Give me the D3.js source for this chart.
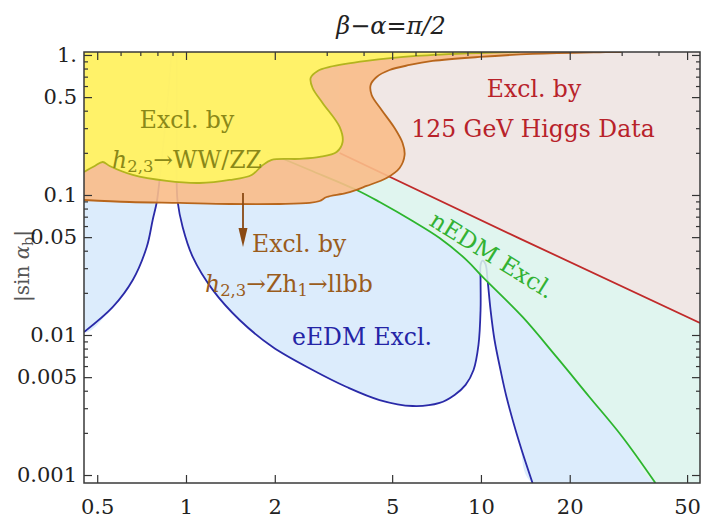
<!DOCTYPE html>
<html>
<head>
<meta charset="utf-8">
<script src="https://cdn.jsdelivr.net/npm/d3@7"></script>
<style>
  html, body { margin: 0; padding: 0; background: #fff; }
  svg { display: block; }
  .tick text { font-family: "DejaVu Serif", serif; font-size: 21px; fill: #222; }
</style>
</head>
<body>
<svg id="chart" width="702" height="519"></svg>
<script>
// ---- data: contours in (m_{h2,3} scale, |sin alpha_b|) ----
// eEDM exclusion boundary, left branch (bottom -> top)
const eedmLeft = [
  [0.451, 0.0105], [0.564, 0.0158], [0.66, 0.0247], [0.736, 0.0425], [0.771, 0.0663],
  [0.796, 0.0891], [0.81, 0.118], [0.834, 0.21], [0.867, 0.477], [0.894, 1.05]
];
// eEDM exclusion boundary, right branch (top -> bottom, through the narrow spike)
const eedmRight = [
  [0.93, 1.05], [0.93, 0.343], [0.93, 0.118], [0.937, 0.0891], [0.974, 0.0591],
  [1.054, 0.0361], [1.232, 0.021], [1.52, 0.0128], [1.967, 0.0082], [2.688, 0.00562],
  [3.505, 0.00425], [4.533, 0.00343], [5.866, 0.00311], [7.24, 0.00327], [8.14, 0.00373],
  [8.87, 0.0044], [9.44, 0.00562], [9.81, 0.00849], [9.97, 0.0151], [9.97, 0.0247],
  [9.97, 0.0316], [10.12, 0.034], [10.36, 0.0321], [10.53, 0.0247], [10.78, 0.0151],
  [11.12, 0.00921], [11.65, 0.00562], [12.21, 0.00361], [13.51, 0.00169], [14.96, 0.000877]
];
// nEDM exclusion boundary
const nedm = [
  [1.877, 0.2028], [2.626, 0.1509], [3.789, 0.1086], [4.533, 0.0891], [5.866, 0.0652],
  [7.24, 0.0493], [8.94, 0.0343], [10.13, 0.026], [13.84, 0.01345], [18.04, 0.00697],
  [23.33, 0.00361], [30.18, 0.00187], [39.05, 0.000877]
];
// 125 GeV Higgs data exclusion boundary
const higgs = [[3.318, 0.1995], [13.5, 0.049], [55.3, 0.0122]];
// h_{2,3} -> Z h1 -> llbb exclusion boundary
const zhllbb = [
  [0.451, 0.0921], [0.644, 0.0891], [0.952, 0.0877], [1.406, 0.0862], [2.077, 0.0862],
  [2.626, 0.0877], [2.839, 0.0906], [2.998, 0.0967], [3.505, 0.1034], [4.096, 0.116],
  [4.787, 0.1322], [5.3, 0.156], [5.51, 0.193], [5.424, 0.235], [5.095, 0.301],
  [4.605, 0.405], [4.26, 0.518], [4.227, 0.611], [4.43, 0.696], [4.9, 0.781],
  [5.73, 0.848], [6.855, 0.906], [9.89, 0.968], [14.96, 1.017], [25.2, 1.045], [30, 1.05]
];
// h_{2,3} -> WW/ZZ exclusion boundary
const wwzz = [
  [0.451, 0.146], [0.4905, 0.161], [0.522, 0.172], [0.551, 0.161], [0.66, 0.139],
  [0.86, 0.126], [1.113, 0.1218], [1.406, 0.128], [1.67, 0.139], [1.805, 0.161],
  [1.952, 0.178], [2.428, 0.181], [2.839, 0.187], [3.241, 0.203], [3.396, 0.239],
  [3.318, 0.306], [2.905, 0.454], [2.687, 0.581], [2.646, 0.685], [2.795, 0.769],
  [3.069, 0.821], [4.096, 0.906], [6.05, 0.984], [9.89, 1.033], [13.52, 1.05]
];

// ---- ticks ----
const xMajor = [0.5, 1, 2, 5, 10, 20, 50];
const xMajorLabels = ["0.5", "1", "2", "5", "10", "20", "50"];
const xMinor = [0.6, 0.7, 0.8, 0.9, 3, 4, 6, 7, 8, 9, 30, 40];
const yMajor = [1, 0.5, 0.1, 0.05, 0.01, 0.005, 0.001];
const yMajorLabels = ["1.", "0.5", "0.1", "0.05", "0.01", "0.005", "0.001"];
const yMinor = [0.9, 0.8, 0.7, 0.6, 0.4, 0.3, 0.2, 0.09, 0.08, 0.07, 0.06, 0.04, 0.03, 0.02,
  0.009, 0.008, 0.007, 0.006, 0.004, 0.003, 0.002];

// ---- scales ----
const L = 84, R = 700, T = 52, B = 483;
const xDom = [0.451, 55.3], yDom = [0.000877, 1.05];
const x = d3.scaleLog().domain(xDom).range([L, R]);
const y = d3.scaleLog().domain(yDom).range([B, T]);

const svg = d3.select("#chart");
const serif = '"DejaVu Serif", serif';
const SW = 1.8;

svg.append("defs").append("clipPath").attr("id", "plot")
  .append("rect").attr("x", L).attr("y", T).attr("width", R - L).attr("height", B - T);

const g = svg.append("g").attr("clip-path", "url(#plot)");
const line = d3.line().x(d => x(d[0])).y(d => y(d[1])).curve(d3.curveCatmullRom.alpha(0.5));
const straight = d3.line().x(d => x(d[0])).y(d => y(d[1]));
const xl = xDom[0], xr = xDom[1], yb = yDom[0], yt = yDom[1];

// eEDM region
g.append("path")
  .attr("d", line([[xl, yt], ...eedmLeft]) + "Z")
  .attr("fill", "#dcecfc");
g.append("path")
  .attr("d", line([...eedmRight, [xr, yb], [xr, yt]]) + "Z")
  .attr("fill", "#dcecfc");
g.append("path").attr("d", line(eedmLeft)).attr("fill", "none").attr("stroke", "#2a2aa8").attr("stroke-width", SW);
g.append("path").attr("d", line(eedmRight)).attr("fill", "none").attr("stroke", "#2a2aa8").attr("stroke-width", SW);

// nEDM region
g.append("path")
  .attr("d", line([...nedm, [xr, yb], [xr, yt], [nedm[0][0], yt]]) + "Z")
  .attr("fill", "#e0f7ec").attr("fill-opacity", 0.85);
g.append("path").attr("d", line(nedm)).attr("fill", "none").attr("stroke", "#2db52d").attr("stroke-width", SW);

// 125 GeV Higgs data region
g.append("path")
  .attr("d", straight([...higgs, [xr, yt], [higgs[0][0], yt]]) + "Z")
  .attr("fill", "#f0e7e5");
g.append("path")
  .attr("d", straight(higgs))
  .attr("fill", "none").attr("stroke", "#c02a2a").attr("stroke-width", SW);

// Zh1 -> llbb region
g.append("path")
  .attr("d", line([...zhllbb, [xl, yt]]) + "Z")
  .attr("fill", "#f9bd88").attr("fill-opacity", 0.9);
g.append("path").attr("d", line(zhllbb)).attr("fill", "none").attr("stroke", "#b8661c").attr("stroke-width", SW);

// WW/ZZ region
g.append("path")
  .attr("d", line([...wwzz, [xl, yt]]) + "Z")
  .attr("fill", "#fff566").attr("fill-opacity", 0.93);
g.append("path").attr("d", line(wwzz)).attr("fill", "none").attr("stroke", "#b3b41e").attr("stroke-width", SW);

// ---- annotations ----
function label(px, py, color, anchor, parts, size, rot) {
  const t = svg.append("text").attr("x", px).attr("y", py)
    .attr("fill", color).attr("text-anchor", anchor)
    .style("font-family", serif).style("font-size", size + "px");
  if (rot) t.attr("transform", `rotate(${rot},${px},${py})`);
  parts.forEach(p => {
    const s = t.append("tspan").text(p.t);
    if (p.i) s.style("font-style", "italic");
    if (p.sub) s.attr("baseline-shift", "-25%").style("font-size", (size * 0.7) + "px");
  });
  return t;
}
const fs = 23.5;
label(187, 128, "#8a8818", "middle", [{ t: "Excl. by" }], fs);
label(187, 168, "#8a8818", "middle", [{ t: "h", i: 1 }, { t: "2,3", sub: 1 }, { t: "\u2192WW/ZZ" }], fs);

label(252, 252, "#9a5c1c", "start", [{ t: "Excl. by" }], fs);
label(205, 292, "#9a5c1c", "start", [{ t: "h", i: 1 }, { t: "2,3", sub: 1 }, { t: "\u2192Zh" }, { t: "1", sub: 1 }, { t: "\u2192llbb" }], fs);

label(292, 345, "#2424a6", "start", [{ t: "eEDM Excl." }], fs);
label(534, 97, "#b8222a", "middle", [{ t: "Excl. by" }], fs);
label(533, 137, "#b8222a", "middle", [{ t: "125 GeV Higgs Data" }], fs);
label(488, 262, "#33b233", "middle", [{ t: "nEDM Excl." }], fs, 32);

// arrow pointing into the llbb-excluded side
svg.append("line").attr("x1", 243).attr("y1", 193).attr("x2", 243).attr("y2", 232)
  .attr("stroke", "#8a4a14").attr("stroke-width", 1.8);
svg.append("path").attr("d", "M238.5,228 L247.5,228 L243,247 Z").attr("fill", "#8a4a14");

// title
svg.append("text").attr("x", 391).attr("y", 34).attr("text-anchor", "middle")
  .style("font-family", serif).style("font-size", "24px").style("font-style", "italic")
  .attr("fill", "#222").text("\u03b2\u2212\u03b1=\u03c0/2");

// y-axis label
const yl = svg.append("text").attr("transform", "translate(29,266) rotate(-90)")
  .attr("text-anchor", "middle").attr("fill", "#555")
  .style("font-family", serif).style("font-size", "20px");
yl.append("tspan").text("|sin ");
yl.append("tspan").text("\u03b1").style("font-style", "italic");
yl.append("tspan").text("b").attr("baseline-shift", "-25%").style("font-size", "14px");
yl.append("tspan").text("|");

// ---- axes (ticks point inward) ----
function styleAxis(sel) {
  sel.select(".domain").remove();
  sel.selectAll(".tick line").attr("stroke", "#333").attr("stroke-width", 1.2);
}
svg.append("g").attr("transform", `translate(0,${B})`)
  .call(d3.axisBottom(x).tickValues(xMajor).tickSize(-8).tickPadding(16)
    .tickFormat((d, i) => xMajorLabels[i])).call(styleAxis);
svg.append("g").attr("transform", `translate(0,${T})`)
  .call(d3.axisTop(x).tickValues(xMajor).tickSize(-8).tickFormat("")).call(styleAxis);
svg.append("g").attr("transform", `translate(0,${T})`)
  .call(d3.axisTop(x).tickValues(xMinor).tickSize(-4).tickFormat("")).call(styleAxis);

svg.append("g").attr("transform", `translate(${L},0)`)
  .call(d3.axisLeft(y).tickValues(yMajor).tickSize(-8).tickPadding(7)
    .tickFormat((d, i) => yMajorLabels[i])).call(styleAxis);
svg.append("g").attr("transform", `translate(${L},0)`)
  .call(d3.axisLeft(y).tickValues(yMinor).tickSize(-4).tickFormat("")).call(styleAxis);
svg.append("g").attr("transform", `translate(${R},0)`)
  .call(d3.axisRight(y).tickValues(yMajor).tickSize(-8).tickFormat("")).call(styleAxis);
svg.append("g").attr("transform", `translate(${R},0)`)
  .call(d3.axisRight(y).tickValues(yMinor).tickSize(-4).tickFormat("")).call(styleAxis);

// frame
svg.append("rect").attr("x", L).attr("y", T).attr("width", R - L).attr("height", B - T)
  .attr("fill", "none").attr("stroke", "#3a3a3a").attr("stroke-width", 1.5);
</script>
</body>
</html>
